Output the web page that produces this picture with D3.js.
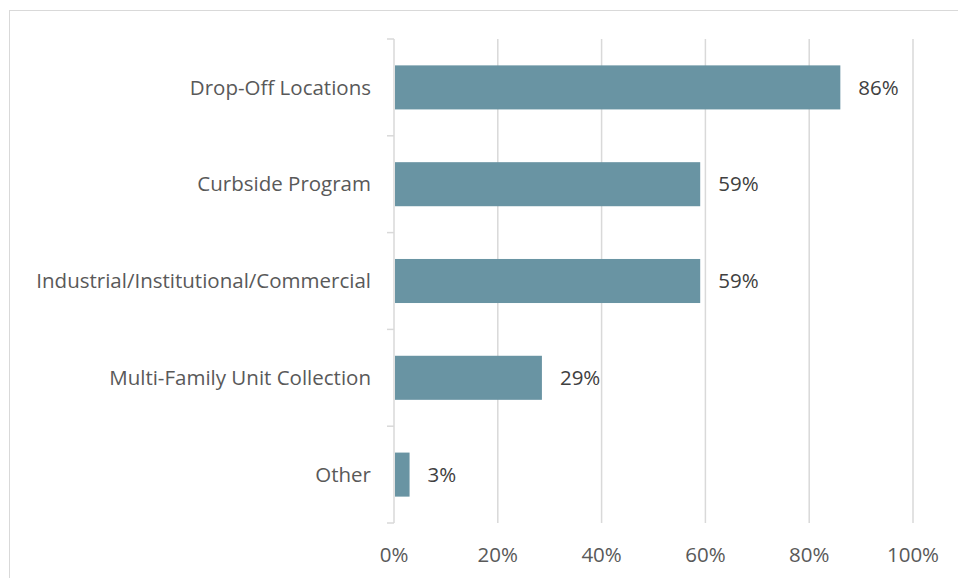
<!DOCTYPE html>
<html>
<head>
<meta charset="utf-8">
<script src="https://cdn.jsdelivr.net/npm/d3@7"></script>
<style>
  html, body { margin: 0; padding: 0; background: #fff; }
  svg { display: block; }
  text { font-family: "Open Sans", "Noto Sans", sans-serif; }
</style>
</head>
<body>
<svg id="chart" width="958" height="578"></svg>
<script>
const categories = ["Drop-Off Locations", "Curbside Program", "Industrial/Institutional/Commercial", "Multi-Family Unit Collection", "Other"];
const values = [86, 59, 59, 28.5, 3];
const tickValues = [0, 20, 40, 60, 80, 100];

const svg = d3.select("#chart");
const W = 958, H = 578;
const FS = 20.5;

// chart border
svg.append("rect")
  .attr("x", 9.5).attr("y", 10.5)
  .attr("width", W + 20).attr("height", H + 20)
  .attr("fill", "#fff").attr("stroke", "#d9d9d9").attr("stroke-width", 1);

const x = d3.scaleLinear().domain([0, 100]).range([394, 913]);
const y = d3.scaleBand().domain(categories).range([39, 523]).paddingInner(0.545).paddingOuter(0.2725);
const yOuter = d3.scaleBand().domain(categories).range([39, 523]);

// gridlines
svg.append("g").selectAll("line")
  .data(tickValues.filter(d => d > 0))
  .join("line")
  .attr("x1", d => x(d)).attr("x2", d => x(d))
  .attr("y1", 39).attr("y2", 523)
  .attr("stroke", "#d9d9d9").attr("stroke-width", 1.5);

// y axis line and ticks
const yAxis = svg.append("g");
yAxis.append("line")
  .attr("x1", x(0)).attr("x2", x(0))
  .attr("y1", 39).attr("y2", 523)
  .attr("stroke", "#d9d9d9").attr("stroke-width", 1.5);
const tickYs = categories.map(c => yOuter(c)).concat([523]);
yAxis.selectAll("line.tk").data(tickYs).join("line")
  .attr("class", "tk")
  .attr("x1", x(0) - 7).attr("x2", x(0))
  .attr("y1", d => d).attr("y2", d => d)
  .attr("stroke", "#d9d9d9").attr("stroke-width", 1.5);

// category labels
svg.append("g").selectAll("text")
  .data(categories)
  .join("text")
  .attr("x", 371)
  .attr("y", d => yOuter(d) + yOuter.bandwidth() / 2)
  .attr("dy", "0.35em")
  .attr("text-anchor", "end")
  .attr("font-size", FS)
  .attr("fill", "#595959")
  .text(d => d);

// bars
const data = categories.map((c, i) => ({ c, v: values[i] }));
svg.append("g").selectAll("rect")
  .data(data)
  .join("rect")
  .attr("x", x(0) + 1)
  .attr("y", d => y(d.c))
  .attr("width", d => x(d.v) - x(0) - 1)
  .attr("height", y.bandwidth())
  .attr("fill", "#6994a3");

// value labels
svg.append("g").selectAll("text")
  .data(data)
  .join("text")
  .attr("x", d => x(d.v) + 18)
  .attr("y", d => y(d.c) + y.bandwidth() / 2)
  .attr("dy", "0.35em")
  .attr("font-size", FS)
  .attr("fill", "#404040")
  .text(d => Math.round(d.v) + "%");

// x tick labels
svg.append("g").selectAll("text")
  .data(tickValues)
  .join("text")
  .attr("x", d => x(d))
  .attr("y", 562)
  .attr("text-anchor", "middle")
  .attr("font-size", FS)
  .attr("fill", "#595959")
  .text(d => d + "%");
</script>
</body>
</html>
